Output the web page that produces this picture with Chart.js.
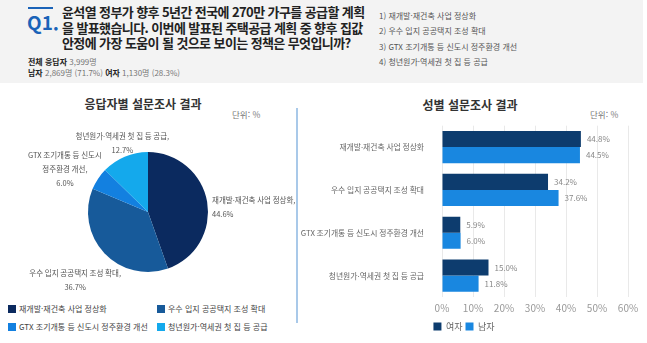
<!DOCTYPE html>
<html lang="ko">
<head>
<meta charset="utf-8">
<script src="https://cdn.jsdelivr.net/npm/chart.js@4"></script>
<style>
  body { margin: 0; width: 647px; height: 343px; background: #fff; position: relative; overflow: hidden;
         font-family: 'Noto Sans CJK KR', sans-serif; }
  .abs { position: absolute; }
  #head { left: 0; top: 0; width: 643px; height: 83px; background: #f3f3f3; }
  #q1bar { left: 28px; top: 7px; width: 25px; height: 2px; background: #1a63b8; }
  #q1 { left: 27px; top: 11px; font-size: 19px; font-weight: 700; color: #1a63b8; line-height: 22px; }
  #question { left: 62px; top: 4px; font-size: 13px; font-weight: 700; color: #222; line-height: 15.5px; letter-spacing: -0.6px; white-space: nowrap; }
  #resp { left: 28px; top: 56px; font-size: 8px; color: #777; line-height: 11px; white-space: nowrap; }
  #resp b { color: #222; }
  #opts { left: 379px; top: 8px; font-size: 8px; color: #555; line-height: 15.3px; white-space: nowrap; }
  .ttl { font-size: 12px; font-weight: 700; color: #333; white-space: nowrap; transform: translateX(-50%); }
  .unit { font-size: 8.5px; color: #777; white-space: nowrap; }
  #divider { left: 296px; top: 108px; width: 1.5px; height: 215px; background: #a9c9e9; }
  #pieLegend { left: 8px; top: 303px; width: 290px; font-size: 8px; color: #444; }
  #pieLegend div { position: absolute; white-space: nowrap; }
  #pieLegend span { display: inline-block; width: 8px; height: 8px; margin-right: 3px; vertical-align: -0.5px; }
</style>
</head>
<body>
<div id="head" class="abs"></div>
<div id="q1bar" class="abs"></div>
<div id="q1" class="abs">Q1.</div>
<div id="question" class="abs">윤석열 정부가 향후 5년간 전국에 270만 가구를 공급할 계획<br>을 발표했습니다. 이번에 발표된 주택공급 계획 중 향후 집값<br>안정에 가장 도움이 될 것으로 보이는 정책은 무엇입니까?</div>
<div id="resp" class="abs"><b>전체 응답자</b> 3,999명<br><b>남자</b> 2,869명 (71.7%) <b>여자</b> 1,130명 (28.3%)</div>
<div id="opts" class="abs"></div>

<div class="abs ttl" style="left:143px; top:95px;">응답자별 설문조사 결과</div>
<div class="abs unit" style="left:232px; top:108px;">단위: %</div>
<div class="abs ttl" style="left:470px; top:96px;">성별 설문조사 결과</div>
<div class="abs unit" style="left:590px; top:108px;">단위: %</div>
<div id="divider" class="abs"></div>

<canvas id="pie" class="abs" width="297" height="205" style="left:0; top:88px;"></canvas>
<div id="pieLegend" class="abs"></div>
<canvas id="bar" class="abs" width="347" height="238" style="left:300px; top:111px;"></canvas>

<script>
'use strict';

// survey options
const options = ['재개발·재건축 사업 정상화', '우수 입지 공공택지 조성 확대', 'GTX 조기개통 등 신도시 정주환경 개선', '청년원가·역세권 첫 집 등 공급'];
// pie labels, broken into lines as in the picture
const pieLabelLines = [
  ['재개발·재건축 사업 정상화,'],
  ['우수 입지 공공택지 조성 확대,'],
  ['GTX 조기개통 등 신도시', '정주환경 개선,'],
  ['청년원가·역세권 첫 집 등 공급,']
];
const totalShare = [44.6, 36.7, 6.0, 12.7];
const pieColors = ['#0b2a5f', '#175a9a', '#1380e0', '#14a9ec'];

const genderNames = ['여자', '남자'];
const femaleShare = [44.8, 34.2, 5.9, 15.0];
const maleShare = [44.5, 37.6, 6.0, 11.8];
const barColors = ['#0d3c6e', '#1987e0'];
const xTicks = [0, 10, 20, 30, 40, 50, 60];

Chart.defaults.font.family = "'Noto Sans CJK KR', sans-serif";

// option list in the header
document.getElementById('opts').innerHTML =
  options.map((o, i) => (i + 1) + ') ' + o).join('<br>');

// pie legend, 2 x 2
const legendPos = [[0, 0], [149, 0], [0, 18], [149, 18]];
document.getElementById('pieLegend').innerHTML = options.map((o, i) =>
  '<div style="left:' + legendPos[i][0] + 'px; top:' + legendPos[i][1] + 'px;"><span style="background:' +
  pieColors[i] + '"></span>' + o + '</div>').join('');

// labels outside the pie slices (distance from centre in radii, x and y)
const labelRadius = [[1.1, 1.1], [1.67, 1.65], [1.66, 1.3], [1.1, 1.25]];
const pieLabels = {
  id: 'pieLabels',
  afterDatasetsDraw(chart) {
    const ctx = chart.ctx;
    const meta = chart.getDatasetMeta(0);
    ctx.save();
    ctx.font = '7.5px ' + Chart.defaults.font.family;
    ctx.fillStyle = '#555';
    ctx.textBaseline = 'middle';
    meta.data.forEach((arc, i) => {
      const mid = (arc.startAngle + arc.endAngle) / 2;
      const dx = Math.cos(mid), dy = Math.sin(mid);
      const lines = pieLabelLines[i].concat([totalShare[i].toFixed(1) + '%']);
      const lh = 14;
      let x, y;
      if (dx > 0.6) {
        ctx.textAlign = 'left';
        x = arc.x + arc.outerRadius + 4;
        y = arc.y + dy * arc.outerRadius * 0.5;
      } else {
        ctx.textAlign = 'center';
        x = arc.x + dx * arc.outerRadius * labelRadius[i][0];
        y = arc.y + dy * arc.outerRadius * labelRadius[i][1];
      }
      lines.forEach((t, k) => ctx.fillText(t, x, y - (lines.length - 1) * lh / 2 + k * lh));
    });
    ctx.restore();
  }
};

new Chart(document.getElementById('pie').getContext('2d'), {
  type: 'pie',
  data: {
    labels: options,
    datasets: [{ data: totalShare, backgroundColor: pieColors, borderWidth: 0 }]
  },
  options: {
    responsive: false,
    animation: false,
    layout: { padding: { left: 88, right: 89, top: 64, bottom: 21 } },
    plugins: { legend: { display: false }, tooltip: { enabled: false } }
  },
  plugins: [pieLabels]
});

// value labels at the end of the bars
const barValues = {
  id: 'barValues',
  afterDatasetsDraw(chart) {
    const ctx = chart.ctx;
    ctx.save();
    ctx.font = '8px ' + Chart.defaults.font.family;
    ctx.fillStyle = '#888';
    ctx.textAlign = 'left';
    ctx.textBaseline = 'middle';
    chart.data.datasets.forEach((ds, d) => {
      chart.getDatasetMeta(d).data.forEach((bar, i) => {
        ctx.fillText(ds.data[i].toFixed(1) + '%', bar.x + 6, bar.y);
      });
    });
    ctx.restore();
  }
};

new Chart(document.getElementById('bar').getContext('2d'), {
  type: 'bar',
  data: {
    labels: options,
    datasets: [
      { label: genderNames[0], data: femaleShare, backgroundColor: barColors[0] },
      { label: genderNames[1], data: maleShare, backgroundColor: barColors[1] }
    ]
  },
  options: {
    responsive: false,
    animation: false,
    indexAxis: 'y',
    layout: { padding: { top: 0, right: 19, bottom: 8 } },
    datasets: { bar: { categoryPercentage: 0.75, barPercentage: 1.0 } },
    scales: {
      x: {
        min: xTicks[0],
        max: xTicks[xTicks.length - 1],
        ticks: { stepSize: 10, color: '#999', font: { size: 10 }, padding: 5, callback: v => v + '%' },
        grid: { color: '#e9e9e9', drawTicks: false },
        border: { display: false }
      },
      y: {
        afterFit: s => { s.width = 142; },
        ticks: { color: '#666', font: { size: 7.8 }, padding: 10 },
        grid: { display: false },
        border: { display: false }
      }
    },
    plugins: {
      legend: {
        position: 'bottom',
        labels: { boxWidth: 8, boxHeight: 8, color: '#666', font: { size: 9 }, padding: 3 }
      },
      tooltip: { enabled: false }
    }
  },
  plugins: [barValues]
});
</script>
</body>
</html>
